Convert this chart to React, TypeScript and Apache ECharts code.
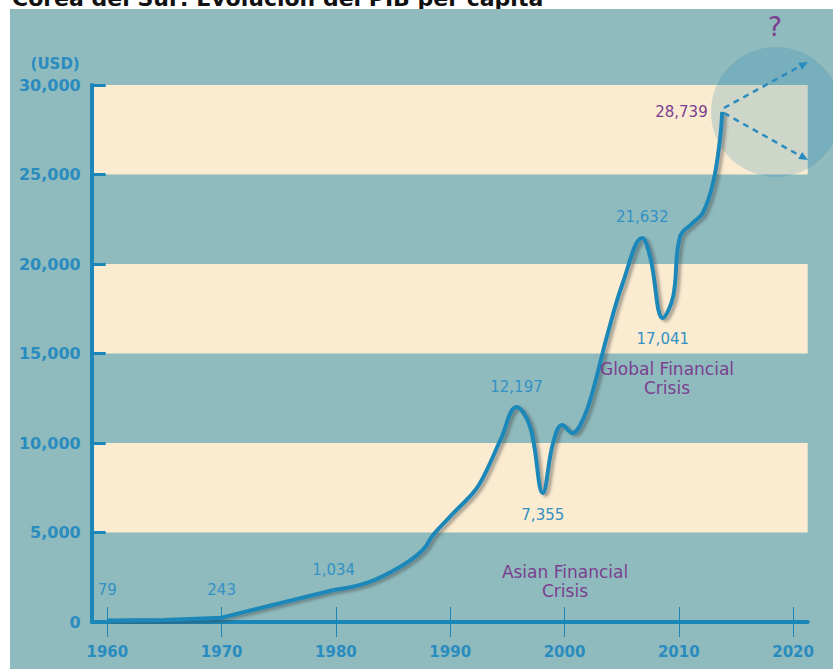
import React, { useEffect, useRef } from "react";
import * as echarts from "echarts";

// ---- data ----
const years = [1960, 1965, 1970, 1979.8, 1982.7, 1985.6, 1987.6, 1988.5, 1990.3, 1992.2, 1993.2, 1994.4, 1995.8, 1997.0, 1998.1, 1999.0, 1999.8, 2000.7, 2001.6, 2002.5, 2003.7, 2005.1, 2006.8, 2007.5, 2008.6, 2009.5, 2010.1, 2011.2, 2012.1, 2013.0, 2013.6, 2013.8];
const gdp = [79, 110, 243, 1790, 2180, 3070, 4020, 4860, 6090, 7370, 8490, 10170, 12010, 10890, 7210, 10000, 11010, 10560, 11290, 12960, 15920, 18940, 21450, 20390, 16980, 18160, 21510, 22290, 22850, 24530, 26930, 28500];

// annotated points: index into the series, text shown
const labelIndex = [0, 2, 3, 12, 14, 22, 24, 31];
const labelText = ["79", "243", "1,034", "12,197", "7,355", "21,632", "17,041", "28,739"];

// the early (pre-1980) stretch is drawn as straight segments
const straightUntil = 3;

const xTickYears = [1960, 1970, 1980, 1990, 2000, 2010, 2020];
const yMin = 0;
const yMax = 30000;
const yStep = 5000;

const titleText = "Corea del Sur: Evolución del PIB per cápita";
const yUnit = "(USD)";
const crisisNotes = ["Asian Financial\nCrisis", "Global Financial\nCrisis"];

const FONT = "'DejaVu Sans', sans-serif";
const BLUE = "#1B87B9";
const AXIS_TEXT = "#2A8BBE";
const LABEL_BLUE = "#3391C4";
const PURPLE = "#7B3F90";

const GRID = { left: 91.7, right: 25.3, top: 85, bottom: 47 };
const GRID_H = 669 - GRID.top - GRID.bottom;

function labelConfig(i: number) {
  const k = labelIndex.indexOf(i);
  if (k < 0) return undefined;
  const text = labelText[k];
  const base: any = {
    show: true,
    formatter: text,
    fontFamily: FONT,
    fontSize: 15,
    color: LABEL_BLUE,
  };
  if (i === 0) return { ...base, position: "top", distance: 23, offset: [2, 0] };
  if (i === 2) return { ...base, position: "top", distance: 20 };
  if (i === 3) return { ...base, position: "top", distance: 12, offset: [3, 0] };
  if (i === 12) return { ...base, position: "top", distance: 12 };
  if (i === 14) return { ...base, position: "bottom", distance: 14 };
  if (i === 22) return { ...base, position: "top", distance: 13, offset: [-2, 0] };
  if (i === 24) return { ...base, position: "bottom", distance: 13, offset: [2, 0] };
  if (i === 31) return { ...base, position: "left", distance: 14, color: PURPLE };
  return undefined;
}

function arrowHead(tx: number, ty: number, dx: number, dy: number) {
  const len = Math.sqrt(dx * dx + dy * dy);
  const ux = dx / len;
  const uy = dy / len;
  const nx = -uy;
  const ny = ux;
  const bx = tx - 9 * ux;
  const by = ty - 9 * uy;
  return [
    [tx, ty],
    [bx + 4 * nx, by + 4 * ny],
    [bx - 4 * nx, by - 4 * ny],
  ];
}

const lineStyle = {
  color: BLUE,
  width: 4,
  shadowColor: "rgba(60,60,60,0.45)",
  shadowBlur: 3,
  shadowOffsetX: 3,
  shadowOffsetY: 2,
};

export default function App() {
  const ref = useRef<HTMLDivElement>(null);

  useEffect(() => {
    if (!ref.current) return;
    const chart = echarts.init(ref.current, undefined, { renderer: "svg" });

    const makeItem = (i: number, withLabel: boolean) => {
      const lab = withLabel ? labelConfig(i) : undefined;
      return lab ? { value: [years[i], gdp[i]], label: lab } : { value: [years[i], gdp[i]] };
    };
    const early = years.slice(0, straightUntil + 1).map((_, i) => makeItem(i, true));
    const late = years.slice(straightUntil).map((_, j) => makeItem(j + straightUntil, j !== 0));

    const common: any = {
      type: "line",
      xAxisIndex: 0,
      symbol: "circle",
      symbolSize: 1,
      showSymbol: true,
      itemStyle: { color: "rgba(0,0,0,0)" },
      z: 3,
      lineStyle,
      labelLayout: { hideOverlap: false },
      emphasis: { disabled: true },
    };

    const upStart = [724, 108];
    const upEnd = [808, 62];
    const dnStart = [724, 113];
    const dnEnd = [808, 160];

    const option: any = {
      animation: false,
      backgroundColor: "#ffffff",
      grid: { left: GRID.left, right: GRID.right, top: GRID.top, bottom: GRID.bottom, containLabel: false },
      xAxis: [
        {
          type: "value",
          min: 1958.63,
          max: 2021.28,
          splitLine: { show: false },
          axisLine: { show: true, lineStyle: { color: BLUE, width: 4 } },
          axisTick: { show: true, inside: false, length: 15, customValues: xTickYears, lineStyle: { color: BLUE, width: 1 } },
          axisLabel: {
            show: true,
            customValues: xTickYears,
            formatter: (v: number) => String(v),
            margin: 22,
            fontFamily: FONT,
            fontSize: 15,
            fontWeight: "bold",
            color: AXIS_TEXT,
          },
        },
        {
          type: "value",
          position: "top",
          offset: -GRID_H,
          min: 1958.63,
          max: 2021.28,
          splitLine: { show: false },
          axisLine: { show: false },
          axisTick: { show: true, inside: false, length: 15, customValues: xTickYears, lineStyle: { color: BLUE, width: 1 } },
          axisLabel: { show: false },
        },
      ],
      yAxis: {
        type: "value",
        min: yMin,
        max: yMax,
        interval: yStep,
        name: yUnit,
        nameLocation: "end",
        nameGap: 14,
        nameTextStyle: {
          fontFamily: FONT,
          fontSize: 15,
          fontWeight: "bold",
          color: AXIS_TEXT,
          align: "right",
          verticalAlign: "bottom",
          padding: [0, 12, 0, 0],
        },
        splitLine: { show: false },
        splitArea: { show: true, areaStyle: { color: ["rgba(0,0,0,0)", "#FBEBD0"] } },
        axisLine: { show: true, lineStyle: { color: BLUE, width: 4 } },
        axisTick: { show: true, inside: true, length: 14, lineStyle: { color: BLUE, width: 3 } },
        axisLabel: {
          margin: 11,
          fontFamily: FONT,
          fontSize: 16,
          fontWeight: "bold",
          color: AXIS_TEXT,
          formatter: (v: number) => v.toLocaleString("en-US"),
        },
      },
      series: [
        { ...common, name: "early", data: early, smooth: false },
        { ...common, name: "late", data: late, smooth: 0.4 },
      ],
      graphic: [
        {
          type: "text",
          z: -11,
          left: 12,
          top: -13,
          style: { text: titleText, fontFamily: FONT, fontSize: 22, fontWeight: "bold", fill: "#111111" },
        },
        { type: "rect", z: -10, shape: { x: 10, y: 9, width: 823, height: 660 }, style: { fill: "#8FBBBE" } },
        { type: "circle", z: 1, shape: { cx: 776, cy: 112, r: 65 }, style: { fill: "rgba(30,130,180,0.2)" } },
        {
          type: "line",
          z: 4,
          shape: { x1: upStart[0], y1: upStart[1], x2: upEnd[0] - 4, y2: upEnd[1] + 2 },
          style: { stroke: AXIS_TEXT, lineWidth: 2.5, lineDash: [6, 5] },
        },
        {
          type: "line",
          z: 4,
          shape: { x1: dnStart[0], y1: dnStart[1], x2: dnEnd[0] - 4, y2: dnEnd[1] - 2 },
          style: { stroke: AXIS_TEXT, lineWidth: 2.5, lineDash: [6, 5] },
        },
        {
          type: "polygon",
          z: 4,
          shape: { points: arrowHead(upEnd[0], upEnd[1], upEnd[0] - upStart[0], upEnd[1] - upStart[1]) },
          style: { fill: AXIS_TEXT },
        },
        {
          type: "polygon",
          z: 4,
          shape: { points: arrowHead(dnEnd[0], dnEnd[1], dnEnd[0] - dnStart[0], dnEnd[1] - dnStart[1]) },
          style: { fill: AXIS_TEXT },
        },
        {
          type: "text",
          z: 4,
          x: 775,
          y: 26,
          style: { text: "?", fontFamily: FONT, fontSize: 27, fill: PURPLE, align: "center", verticalAlign: "middle" },
        },
        {
          type: "text",
          z: 4,
          x: 565,
          y: 581,
          style: { text: crisisNotes[0], fontFamily: FONT, fontSize: 17, lineHeight: 19, fill: PURPLE, align: "center", verticalAlign: "middle" },
        },
        {
          type: "text",
          z: 4,
          x: 667,
          y: 378,
          style: { text: crisisNotes[1], fontFamily: FONT, fontSize: 17, lineHeight: 19, fill: PURPLE, align: "center", verticalAlign: "middle" },
        },
      ],
    };

    chart.setOption(option);
    return () => chart.dispose();
  }, []);

  return (
    <div style={{ position: "absolute", left: 0, top: 0, width: 833, height: 669, background: "#fff" }}>
      <div ref={ref} style={{ width: 833, height: 669 }} />
    </div>
  );
}
